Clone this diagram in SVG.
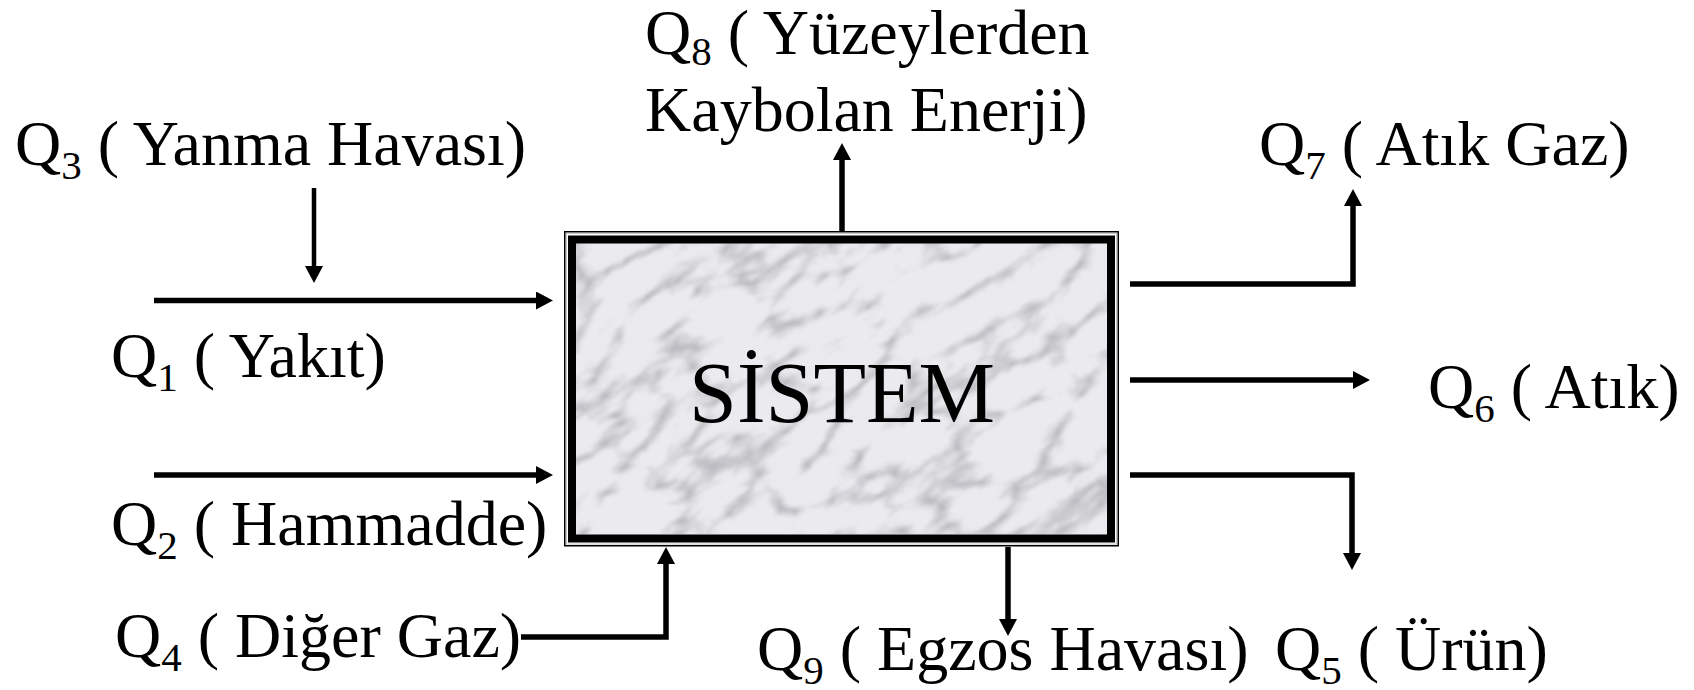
<svg xmlns="http://www.w3.org/2000/svg" width="1694" height="690" viewBox="0 0 1694 690">
<style>
.lbl{font-family:"Liberation Serif","Times New Roman",serif;font-size:64px;fill:#000}
.sub{font-size:41px}
.con{fill:none;stroke:#000;stroke-width:5.5;stroke-linejoin:miter}
</style>
<defs>
<marker id="ah" viewBox="0 0 17 18" refX="9" refY="9" markerWidth="17" markerHeight="18" orient="auto" markerUnits="userSpaceOnUse">
<path d="M0,0 L17,9 L0,18 z" fill="#000"/>
</marker>
<filter id="marble" x="0" y="0" width="100%" height="100%" color-interpolation-filters="sRGB">
<feTurbulence type="turbulence" baseFrequency="0.011 0.024" numOctaves="5" seed="11" result="n"/>
<feColorMatrix in="n" type="matrix" values="0 0 0 0 0.42  0 0 0 0 0.42  0 0 0 0 0.45  -1.4 0 0 0 0.46" result="v"/>
<feGaussianBlur in="v" stdDeviation="1.4"/>
</filter>
<clipPath id="boxclip"><rect x="576" y="243" width="531" height="291"/></clipPath>
</defs>

<g id="sistem">
<rect x="564.75" y="231.75" width="553.5" height="314" fill="#fff" stroke="#000" stroke-width="1.5"/>
<rect x="566.5" y="233.5" width="550" height="310.5" fill="none" stroke="#c8c8c8" stroke-width="1"/>
<rect x="572" y="239.5" width="539" height="299" fill="#ebebef"/>
<g clip-path="url(#boxclip)">
<rect x="400" y="60" width="900" height="660" filter="url(#marble)" transform="rotate(-32 842 388)"/>
</g>
<rect x="572" y="239.5" width="539" height="299" fill="none" stroke="#000" stroke-width="8"/>
<text x="842" y="422" text-anchor="middle" style="font-family:'Liberation Serif','Times New Roman',serif;font-size:86px;fill:#000">SİSTEM</text>
</g>

<g id="connectors">
<path class="con" style="stroke-width:4.5" d="M314,188 V275" marker-end="url(#ah)"/>
<path class="con" d="M154,300.5 H545" marker-end="url(#ah)"/>
<path class="con" d="M154,475 H545" marker-end="url(#ah)"/>
<path class="con" d="M521,637 H666 V555" marker-end="url(#ah)"/>
<path class="con" d="M842,231 V151" marker-end="url(#ah)"/>
<path class="con" d="M1130,284 H1353 V197" marker-end="url(#ah)"/>
<path class="con" d="M1130,380 H1362" marker-end="url(#ah)"/>
<path class="con" d="M1130,475 H1352 V562" marker-end="url(#ah)"/>
<path class="con" d="M1008,547 V628" marker-end="url(#ah)"/>
</g>

<g id="q3"><text class="lbl" x="15" y="165">Q<tspan class="sub" dy="14">3</tspan><tspan dy="-14"> ( Yanma Havası)</tspan></text></g>
<g id="q1"><text class="lbl" x="111" y="377">Q<tspan class="sub" dy="14">1</tspan><tspan dy="-14"> ( Yakıt)</tspan></text></g>
<g id="q2"><text class="lbl" x="111" y="545">Q<tspan class="sub" dy="14">2</tspan><tspan dy="-14"> ( Hammadde)</tspan></text></g>
<g id="q4"><text class="lbl" x="115" y="657">Q<tspan class="sub" dy="14">4</tspan><tspan dy="-14"> ( Diğer Gaz)</tspan></text></g>
<g id="q8"><text class="lbl" x="645" y="54">Q<tspan class="sub" dy="11">8</tspan><tspan dy="-11"> ( Yüzeylerden</tspan></text>
<text class="lbl" x="645" y="131">Kaybolan Enerji)</text></g>
<g id="q7"><text class="lbl" x="1259" y="165">Q<tspan class="sub" dy="14">7</tspan><tspan dy="-14"> ( Atık Gaz)</tspan></text></g>
<g id="q6"><text class="lbl" x="1428" y="408">Q<tspan class="sub" dy="14">6</tspan><tspan dy="-14"> ( Atık)</tspan></text></g>
<g id="q9"><text class="lbl" x="757" y="670">Q<tspan class="sub" dy="14">9</tspan><tspan dy="-14"> ( Egzos Havası)</tspan></text></g>
<g id="q5"><text class="lbl" x="1275" y="670">Q<tspan class="sub" dy="14">5</tspan><tspan dy="-14"> ( Ürün)</tspan></text></g>
</svg>
